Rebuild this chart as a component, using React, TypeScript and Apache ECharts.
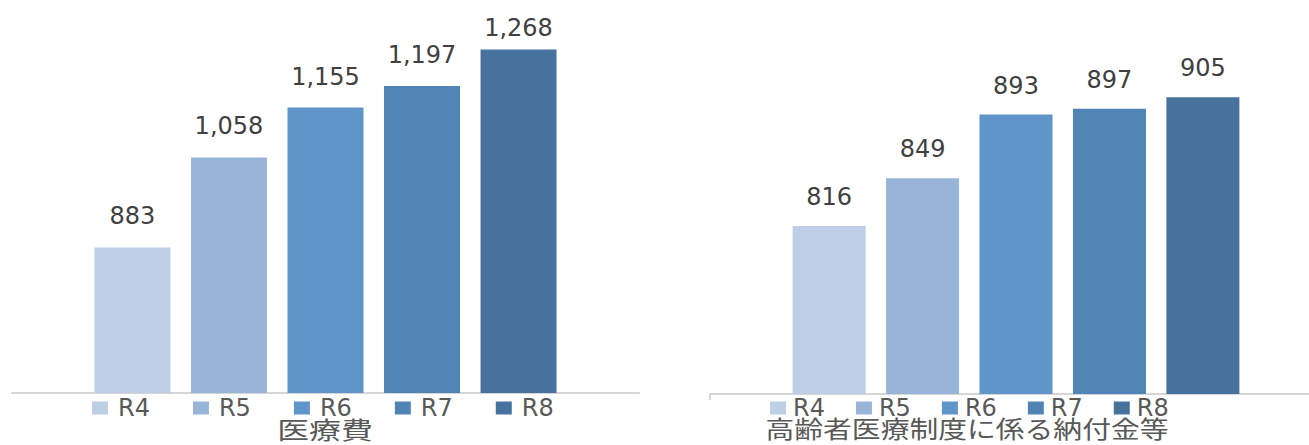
import React, { useEffect, useRef } from "react";
import * as echarts from "echarts";

const years = ["R4", "R5", "R6", "R7", "R8"];
const categories = ["医療費", "高齢者医療制度に係る納付金等"];
const medicalCost = [883, 1058, 1155, 1197, 1268];
const elderlyContribution = [816, 849, 893, 897, 905];
const colors = ["#BCCFE7", "#98B4D9", "#5F95C8", "#5084B4", "#47729E"];

const numFont = "DejaVu Sans, sans-serif";
const cjkFont = "Noto Sans CJK JP, sans-serif";

export default function App() {
  const ref = useRef<HTMLDivElement>(null);
  useEffect(() => {
    if (!ref.current) return;
    const chart = echarts.init(ref.current, undefined, { renderer: "svg" });
    const fmt = (p: any) => Number(p.value).toLocaleString("en-US");
    const makeSeries = (vals: number[], idx: number, bw: number, gap: string) =>
      years.map((y, i) => ({
        type: "bar",
        name: y,
        xAxisIndex: idx,
        yAxisIndex: idx,
        data: [vals[i]],
        barWidth: bw,
        barGap: gap,
        itemStyle: { color: colors[i] },
        label: {
          show: true,
          position: "top",
          distance: idx === 0 ? (i === 4 ? 9 : 19) : 17,
          formatter: fmt,
          fontSize: 24,
          color: "#404040",
          fontFamily: numFont,
        },
      }));
    const axisLine = { lineStyle: { color: "#D6D6D6", width: 2 } };
    const makeLegend = (left: number, gap: number, pad: number) => ({
      data: years,
      icon: "rect",
      itemWidth: 16,
      itemHeight: 13,
      top: 391,
      left,
      itemGap: gap,
      selectedMode: false,
      formatter: (n: string) => `{g|}${n}`,
      textStyle: {
        fontSize: 24,
        color: "#595959",
        fontFamily: numFont,
        rich: { g: { width: pad, fontSize: 24 } },
      },
    });
    chart.setOption({
      animation: false,
      grid: [
        { left: 12, top: 33, width: 627, height: 360, outerBoundsMode: "none" },
        { left: 710, top: 32, width: 612, height: 362, outerBoundsMode: "none" },
      ],
      xAxis: [
        {
          type: "category",
          gridIndex: 0,
          data: [categories[0]],
          axisLine,
          axisTick: { show: false },
          axisLabel: { show: false },
        },
        {
          type: "category",
          gridIndex: 1,
          data: [categories[1]],
          axisLine,
          axisTick: { show: true, length: 6, lineStyle: { color: "#D6D6D6", width: 2 } },
          axisLabel: { show: false },
        },
      ],
      yAxis: [
        { type: "value", gridIndex: 0, min: 600, max: 1300, show: false, splitLine: { show: false } },
        { type: "value", gridIndex: 1, min: 700, max: 950, show: false, splitLine: { show: false } },
      ],
      legend: [makeLegend(87, 43, 5), makeLegend(765, 31, 2)],
      graphic: [
        {
          type: "text",
          x: 325,
          y: 428,
          scaleX: 1.33,
          style: {
            text: categories[0],
            textAlign: "center",
            textVerticalAlign: "middle",
            align: "center",
            verticalAlign: "middle",
            fontSize: 24,
            fontFamily: cjkFont,
            fill: "#595959",
          },
        },
        {
          type: "text",
          x: 967,
          y: 428,
          scaleX: 1.2,
          style: {
            text: categories[1],
            textAlign: "center",
            textVerticalAlign: "middle",
            align: "center",
            verticalAlign: "middle",
            fontSize: 24,
            fontFamily: cjkFont,
            fill: "#595959",
          },
        },
      ],
      series: [
        ...makeSeries(medicalCost, 0, 76, "27%"),
        ...makeSeries(elderlyContribution, 1, 73, "28%"),
      ],
    });
    return () => chart.dispose();
  }, []);
  return (
    <div
      ref={ref}
      style={{ position: "fixed", left: 0, top: 0, width: 1309, height: 445, background: "#fff" }}
    />
  );
}
